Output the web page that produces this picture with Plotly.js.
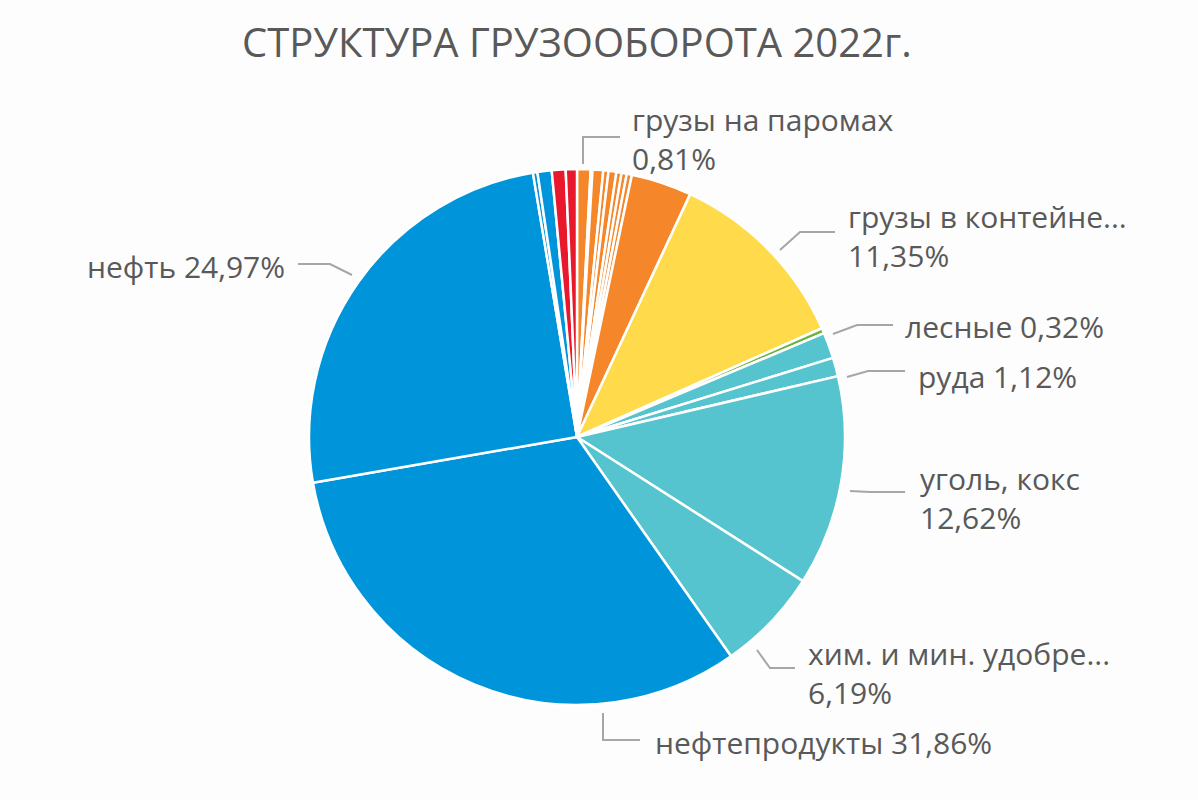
<!DOCTYPE html>
<html>
<head>
<meta charset="utf-8">
<script src="https://cdn.plot.ly/plotly-3.0.1.min.js"></script>
<style>html,body{margin:0;padding:0;background:#fdfdfd;}#chart{width:1198px;height:800px;}</style>
</head>
<body>
<div id="chart"></div>
<script>
// ---- data (clockwise from 12 o'clock) ----
const categories = [
  "грузы на паромах",
  "прочие 1", "прочие 2", "прочие 3", "прочие 4", "прочие 5", "прочие 6", "прочие 7",
  "прочие 8",
  "грузы в контейнерах",
  "лесные",
  "прочие 9",
  "руда",
  "уголь, кокс",
  "хим. и мин. удобрения",
  "нефтепродукты",
  "нефть",
  "прочие 10", "прочие 11",
  "прочие 12", "прочие 13"
];
const values = [
  0.81,
  0.11, 0.64, 0.31, 0.47, 0.31, 0.31, 0.31,
  3.64,
  11.35,
  0.32,
  1.55,
  1.12,
  12.62,
  6.19,
  31.86,
  24.97,
  0.27, 0.85,
  0.83, 0.67
];
const sliceColors = [
  "#F5862A",
  "#F5862A", "#F5862A", "#F5862A", "#F5862A", "#F5862A", "#F5862A", "#F5862A",
  "#F5862A",
  "#FFDB4B",
  "#6DB33F",
  "#56C4CF",
  "#56C4CF",
  "#56C4CF",
  "#56C4CF",
  "#0095DA",
  "#0095DA",
  "#0095DA", "#0095DA",
  "#E8192C", "#E8192C"
];
const labelTexts = {
  "грузы на паромах": "грузы на паромах<br>0,81%",
  "грузы в контейнерах": "грузы в контейне...<br>11,35%",
  "лесные": "лесные 0,32%",
  "руда": "руда 1,12%",
  "уголь, кокс": "уголь, кокс<br>12,62%",
  "хим. и мин. удобрения": "хим. и мин. удобре...<br>6,19%",
  "нефтепродукты": "нефтепродукты 31,86%",
  "нефть": "нефть 24,97%"
};
const titleText = "СТРУКТУРА ГРУЗООБОРОТА 2022г.";

// ---- placement (pixels) ----
const W = 1198, H = 800;
const cx = 577, cy = 437, R = 268;
const placement = {
  "грузы на паромах":      {text:[630,139], anchor:"left",  line:[[583,164],[583,137],[620,137]]},
  "грузы в контейнерах":   {text:[846,236], anchor:"left",  line:[[780,250],[800,232],[835,232]]},
  "лесные":                {text:[903,327], anchor:"left",  line:[[833,334],[857,325],[893,325]]},
  "руда":                  {text:[916,376], anchor:"left",  line:[[847,377],[868,371],[905,371]]},
  "уголь, кокс":           {text:[918,498], anchor:"left",  line:[[850,491],[870,492],[905,492]]},
  "хим. и мин. удобрения": {text:[806,673], anchor:"left",  line:[[757,650],[770,668],[795,668]]},
  "нефтепродукты":         {text:[653,742], anchor:"left",  line:[[603,713],[603,740],[640,740]]},
  "нефть":                 {text:[287,266], anchor:"right", line:[[352,275],[330,264],[298,264]]}
};
const px = x => x / W, py = y => 1 - y / H;

const trace = {
  type: "pie",
  labels: categories,
  values: values,
  sort: false,
  direction: "clockwise",
  rotation: 0,
  textinfo: "none",
  hoverinfo: "label+percent",
  marker: {colors: sliceColors, line: {color: "#ffffff", width: 2.5}},
  domain: {x: [px(cx - R), px(cx + R)], y: [py(cy + R), py(cy - R)]},
  showlegend: false
};

const annotations = [{
  text: titleText,
  xref: "paper", yref: "paper", x: px(577), y: py(42),
  xanchor: "center", yanchor: "middle", showarrow: false,
  font: {family: "Open Sans, sans-serif", size: 40, color: "#595959"}
}];
const shapes = [];
Object.keys(labelTexts).forEach(k => {
  const p = placement[k];
  annotations.push({
    text: labelTexts[k], xref: "paper", yref: "paper",
    x: px(p.text[0]), y: py(p.text[1]), xanchor: p.anchor, yanchor: "middle",
    align: p.anchor, showarrow: false,
    font: {family: "Open Sans, sans-serif", size: 30, color: "#595959"}
  });
  const path = p.line.map((pt, i) => (i ? "L" : "M") + px(pt[0]) + "," + py(pt[1])).join(" ");
  shapes.push({type: "path", xref: "paper", yref: "paper", path: path,
    line: {color: "#A6A6A6", width: 2}});
});

Plotly.newPlot("chart", [trace], {
  width: W, height: H,
  margin: {l: 0, r: 0, t: 0, b: 0},
  paper_bgcolor: "#fdfdfd",
  annotations: annotations,
  shapes: shapes
}, {displayModeBar: false, staticPlot: true});
</script>
</body>
</html>
